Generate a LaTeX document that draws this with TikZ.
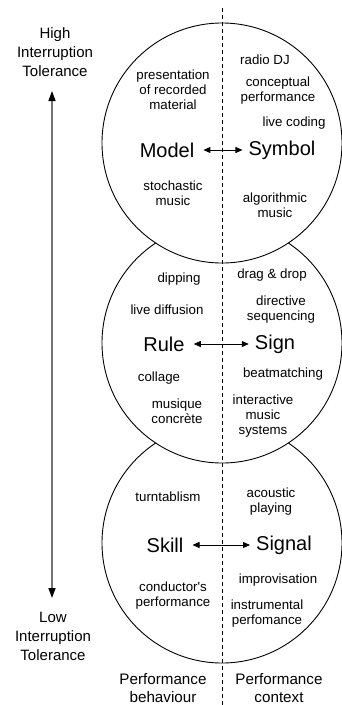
\documentclass[tikz,border=0pt]{standalone}
\usepackage{fontspec}
\setmainfont{Liberation Sans}
\usetikzlibrary{arrows.meta}
\begin{document}
\begin{tikzpicture}[x=1pt,y=-1pt,
  small/.style={font=\fontsize{13.3}{15}\selectfont, align=center, inner sep=0},
  big/.style={font=\fontsize{20}{24}\selectfont, inner sep=0},
  side/.style={font=\fontsize{15}{19}\selectfont, align=center, inner sep=0},
  foot/.style={font=\fontsize{15.2}{18}\selectfont, align=center, inner sep=0},
  ring/.style={circle, draw=black, fill=white, line width=0.9pt, minimum size=240pt, inner sep=0},
  pair/.style={{Triangle[length=7pt,width=6pt]}-{Triangle[length=7pt,width=6pt]}, line width=0.9pt},
  axis/.style={{Triangle[length=10pt,width=7pt,color=black]}-{Triangle[length=10pt,width=7pt,color=black]}, draw=black!55, line width=1.5pt},
  divider/.style={dash pattern=on 4pt off 3pt, line width=0.9pt}]
\useasboundingbox (0,0) rectangle (341,705);
% circles, bottom first
\node[ring] (c3) at (222,543) {};
\node[ring] (c2) at (222,343) {};
\node[ring] (c1) at (222,143) {};
% divider
\coordinate (dtop) at (222,8);
\coordinate (dbot) at (222,705);
\draw[divider] (dtop) -- (dbot);
% axis arrow
\coordinate (atop) at (52,91);
\coordinate (abot) at (52,598);
\draw[axis] (atop) -- (abot);
\node[side] (high) at (55,52) {High\\Interruption\\Tolerance};
\node[side] (low) at (53,636) {Low\\Interruption\\Tolerance};
% circle 1
\node[small] (pres) at (173,90) {presentation\\of recorded\\material};
\node[small] (radio) at (265,60) {radio DJ};
\node[small] (concept) at (278,91) {conceptual\\performance};
\node[small] (live) at (294,123) {live coding};
\node[big] (model) at (167,150) {Model};
\node[big] (symbol) at (282,150) {Symbol};
\node[small] (stoch) at (173,193) {stochastic\\music};
\node[small] (algo) at (275,205) {algorithmic\\music};
\draw[pair] ([xshift=9pt]model.east) -- ([xshift=-6pt]symbol.west);
% circle 2
\node[small] (dip) at (179,279) {dipping};
\node[small] (diff) at (167,310) {live diffusion};
\node[small] (drag) at (272,275) {drag \& drop};
\node[small] (direct) at (281,310) {directive\\sequencing};
\node[big] (rule) at (164,344) {Rule};
\node[big] (sign) at (275,344) {Sign};
\node[small] (beat) at (283,374) {beatmatching};
\node[small] (coll) at (159,378) {collage};
\node[small] (musique) at (177,411) {musique\\concrète};
\node[small] (inter) at (263,416) {interactive\\music\\systems};
\draw[pair] ([xshift=9pt]rule.east) -- ([xshift=-6pt]sign.west);
% circle 3
\node[small] (turn) at (168,497) {turntablism};
\node[small] (acou) at (271,502) {acoustic\\playing};
\node[big] (skill) at (165,545) {Skill};
\node[big] (signal) at (284,545) {Signal};
\node[small] (impro) at (278,580) {improvisation};
\node[small] (cond) at (173,596) {conductor\textquotesingle s\\performance};
\node[small] (instr) at (267,614) {instrumental\\perfomance};
\draw[pair] ([xshift=9pt]skill.east) -- ([xshift=-6pt]signal.west);
% footer
\node[foot] (beh) at (163,688) {Performance\\behaviour};
\node[foot] (ctx) at (279,688) {Performance\\context};
\end{tikzpicture}
\end{document}
